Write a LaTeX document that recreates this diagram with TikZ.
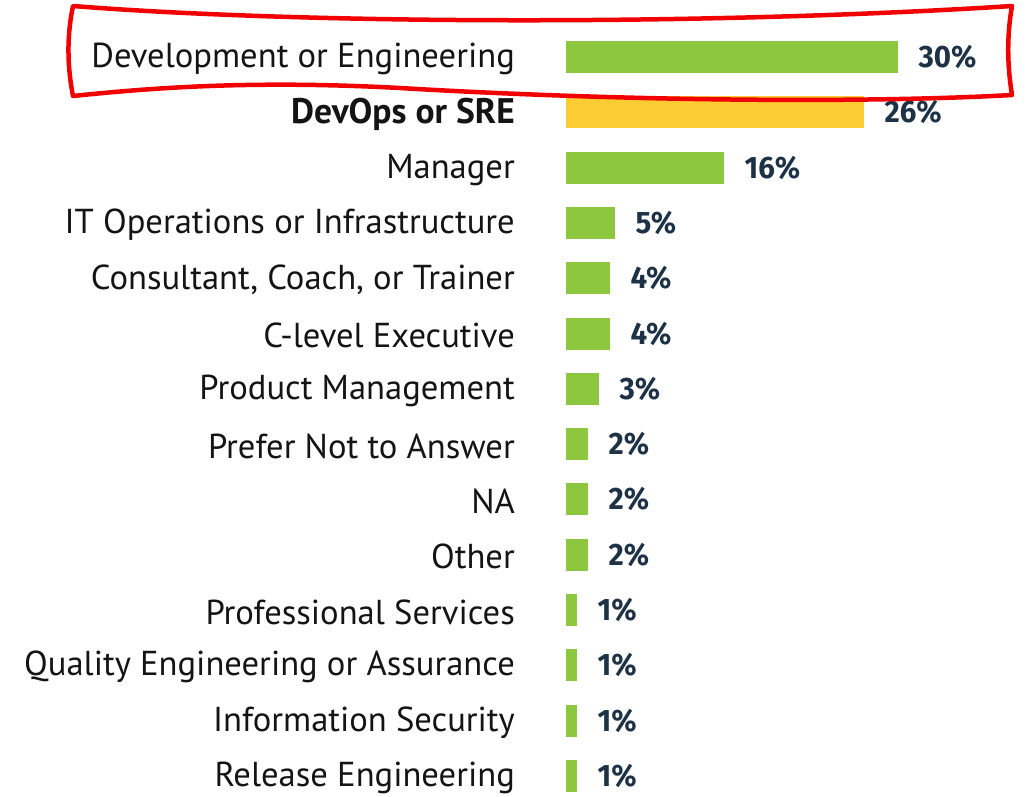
\documentclass[tikz,border=0pt]{standalone}
\usepackage{fontspec}
\setmainfont{PT Sans}
\newfontfamily\pctfont[FakeStretch=0.95]{Fira Sans}
\usetikzlibrary{positioning}
\definecolor{barGreen}{HTML}{8DC63F}
\definecolor{barYellow}{HTML}{FBCD32}
\definecolor{pctBlue}{HTML}{1E3246}
\definecolor{ringRed}{HTML}{F20000}
\tikzset{
    lbl/.style={anchor=east, inner sep=0pt, font=\fontsize{34.6}{34.6}\selectfont, text=black!92},
    barbox/.style={anchor=west, inner sep=0pt, minimum height=32pt, fill=barGreen},
    pct/.style={inner sep=0pt, font=\pctfont\bfseries\fontsize{31}{31}\selectfont, text=pctBlue},
}
\begin{document}
\begin{tikzpicture}[x=1pt,y=-1pt]
    \fill[white] (0,0) rectangle (1028,796);
    \useasboundingbox (0,0) rectangle (1028,796);
    % one row per answer: number/label/share/bar width
    \foreach \i/\txt/\val/\w in {
        1/Development or Engineering/30/332,
        2/{\bfseries\fontsize{35.5}{35.5}\selectfont DevOps or SRE}/26/298,
        3/Manager/16/158,
        4/IT Operations or Infrastructure/5/49,
        5/{Consultant, Coach, or Trainer}/4/44,
        6/C-level Executive/4/44,
        7/Product Management/3/33,
        8/Prefer Not to Answer/2/22,
        9/NA/2/22,
        10/Other/2/22,
        11/Professional Services/1/11,
        12/Quality Engineering or Assurance/1/11,
        13/Information Security/1/11,
        14/Release Engineering/1/11}{
    	\node[lbl] (lbl\i) at (515,{59+(\i-1)*55.3}) {\txt};
    	\node[barbox, minimum width=\w pt] (bar\i) at (566,{57+(\i-1)*55.3}) {};
    	\node[pct, right=20pt of bar\i] (pct\i) {\val\%};
    }
    \node[barbox, fill=barYellow, minimum width=298pt] at (bar2.west) {};
    % hand drawn highlight round the first row
    \draw[ringRed, line width=4.5pt, line join=round]
        (73,6) .. controls (300,24) and (700,26) .. (1012,6)
        .. controls (1006,40) and (1008,70) .. (1012,95)
        .. controls (850,104) and (600,100) .. (400,88)
        .. controls (250,80) and (150,88) .. (73,96)
        .. controls (66,60) and (68,30) .. cycle;
\end{tikzpicture}
\end{document}
